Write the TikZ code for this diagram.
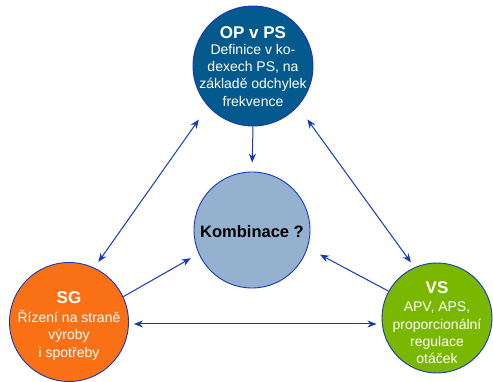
\documentclass[tikz,border=0pt]{standalone}
\usepackage{fontspec}
\setmainfont{Liberation Sans}
\usetikzlibrary{arrows.meta}
\definecolor{opblue}{RGB}{4,90,140}
\definecolor{kblue}{RGB}{148,178,207}
\definecolor{sgorange}{RGB}{250,112,20}
\definecolor{vsgreen}{RGB}{122,184,0}
\definecolor{linkblue}{RGB}{20,56,190}
\tikzset{
  bubble/.style={circle, draw=linkblue, line width=0.9pt, inner sep=0pt},
  title/.style={font=\bfseries\fontsize{17}{20}\selectfont, text=white},
  body/.style={align=center, font=\fontsize{14}{17.3}\selectfont, text=white, inner sep=0pt},
  link/.style={draw=linkblue, line width=1pt, -{Stealth[length=9pt,width=7pt]}},
  dlink/.style={draw=linkblue, line width=1pt, {Stealth[length=9pt,width=7pt]}-{Stealth[length=9pt,width=7pt]}}
}
\begin{document}
\begin{tikzpicture}[x=1pt,y=-1pt]
\useasboundingbox (0,0) rectangle (493,382);
\node[bubble, fill=opblue, minimum size=120pt] (op) at (253,66) {};
\node[bubble, fill=kblue, minimum size=116pt] (k) at (252,230) {};
\node[bubble, fill=sgorange, minimum size=119pt] (sg) at (69,322) {};
\node[bubble, fill=vsgreen, minimum size=110pt] (vs) at (437,318) {};

\node[title, inner sep=0pt] (opt) at (253,33) {OP v PS};
\node[body, anchor=north] (opb) at (253,44) {Definice v ko-\\dexech PS, na\\základě odchylek\\frekvence};
\node[inner sep=0pt, font=\bfseries\fontsize{16.5}{20}\selectfont] (kt) at (252,232) {Kombinace ?};
\node[title, inner sep=0pt] (sgt) at (69,298) {SG};
\node[body, anchor=north] (sgb) at (69,310) {Řízení na straně\\výroby\\i spotřeby};
\node[title, inner sep=0pt] (vst) at (437,288) {VS};
\node[body, anchor=north] (vsb) at (437,302) {APV, APS,\\proporcionální\\regulace\\otáček};

\draw[link, shorten >=9pt] (op.south) -- (k.north);
\draw[dlink, shorten <=7pt, shorten >=16pt] (sg.65) -- (op.222);
\draw[dlink, shorten <=16pt, shorten >=6pt] (op.318) -- (vs.114);
\draw[link, shorten >=9pt] (sg.25) -- (k.204);
\draw[link, shorten >=14pt] (vs.151) -- (k.342);
\draw[dlink, shorten <=5pt, shorten >=5pt] (sg.east |- 0,324) -- (vs.west |- 0,324);
\end{tikzpicture}
\end{document}
